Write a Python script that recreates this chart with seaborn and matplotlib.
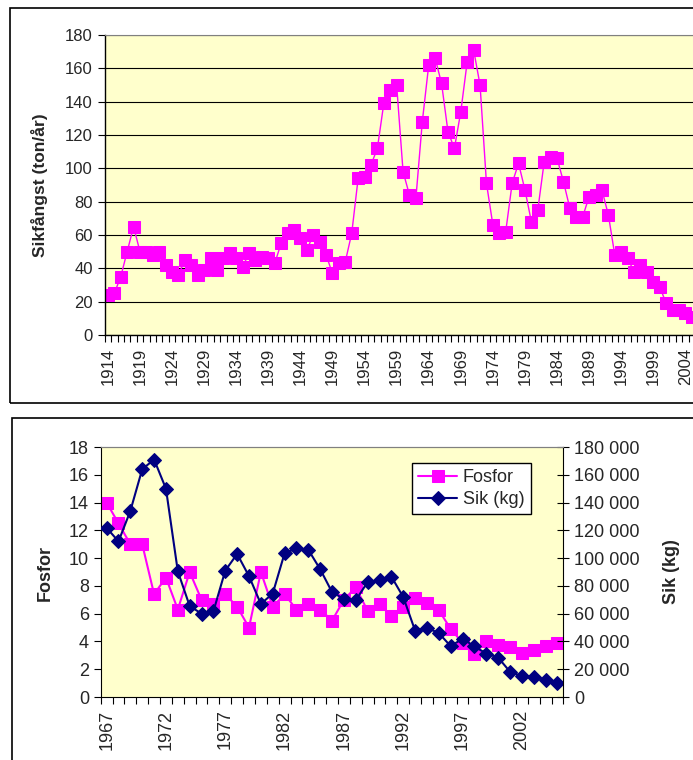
import numpy as np
import pandas as pd
import seaborn as sns
import matplotlib.pyplot as plt
from matplotlib.patches import Rectangle
from matplotlib.ticker import FuncFormatter

# --- data ---
catch_years = list(range(1914, 2006))
catch_tons = [24, 25, 35, 50, 65, 50, 50, 48, 50, 42,
              38, 36, 45, 42, 36, 39, 46, 39, 46, 49,
              46, 41, 49, 45, 47, 46, 43, 55, 61, 63,
              58, 51, 60, 56, 48, 37, 43, 44, 61, 94,
              95, 102, 112, 139, 147, 150, 98, 84, 82, 128,
              162, 166, 151, 122, 112, 134, 164, 171, 150, 91,
              66, 61, 62, 91, 103, 87, 68, 75, 104, 107,
              106, 92, 76, 71, 71, 83, 84, 87, 72, 48,
              50, 46, 38, 42, 38, 32, 29, 19, 15, 15,
              13, 11]

p_years = list(range(1967, 2006))
fosfor = [14.0, 12.5, 11.0, 11.0, 7.4, 8.6, 6.3, 9.0, 7.0, 6.7,
          7.4, 6.5, 5.0, 9.0, 6.5, 7.4, 6.3, 6.7, 6.3, 5.5,
          7.0, 7.9, 6.2, 6.7, 5.8, 6.5, 7.1, 6.75, 6.25, 4.9,
          3.9, 3.1, 4.0, 3.75, 3.6, 3.2, 3.4, 3.65, 3.9]
sik_kg = [121800, 112000, 134000, 164000, 171000, 150000, 90500, 65500, 60000, 61700,
          91000, 103000, 87000, 67000, 74500, 103500, 107000, 106000, 92000, 75500,
          70600, 69700, 82800, 84000, 86700, 72000, 47800, 49800, 46000, 36600,
          42000, 36400, 31300, 28400, 18200, 15000, 14600, 12600, 10400]

sns.set_style("ticks")
plt.rcParams['font.family'] = ['Liberation Sans', 'DejaVu Sans']

W, H = 693, 760
fig = plt.figure(figsize=(W / 100, H / 100), dpi=100)


def fx(px):
    return px / W


def fy(py):
    return 1 - py / H


def box(x0, y0, x1, y1):
    return [fx(x0), fy(y1), fx(x1) - fx(x0), fy(y0) - fy(y1)]


# outer frames of the two chart objects
for x0, y0, x1, y1 in [(10, 8, 720, 403), (12, 418, 720, 790)]:
    fig.patches.append(Rectangle((fx(x0), fy(y1)), fx(x1) - fx(x0), fy(y0) - fy(y1),
                                 transform=fig.transFigure, fill=False,
                                 ec='black', lw=1.2))

yellow = '#FFFFCC'
magenta = '#FF00FF'
navy = '#000080'


def category_xaxis(ax, years, step, size):
    n = len(years)
    ax.set_xlim(-0.5, n - 0.5)
    major = list(range(0, n, step))
    ax.set_xticks(major)
    ax.set_xticklabels([str(years[i]) for i in major], rotation=90, fontsize=size)
    ax.set_xticks(np.arange(-0.5, n, 1.0), minor=True)
    ax.tick_params(axis='x', which='major', length=0, pad=9)
    ax.tick_params(axis='x', which='minor', length=5, width=0.8, direction='out', color='black')
    ax.set_xlabel('')


# --- top chart: catch per year ---
ax1 = fig.add_axes(box(104.7, 35, 695, 335))
ax1.set_facecolor(yellow)
df1 = pd.DataFrame({'pos': np.arange(len(catch_years)), 'tons': catch_tons})
sns.lineplot(data=df1, x='pos', y='tons', ax=ax1, color=magenta, lw=1,
             marker='s', markersize=9, markeredgecolor=magenta, legend=False)
ax1.set_ylim(0, 180)
ax1.set_yticks(range(0, 181, 20))
ax1.set_axisbelow(True)
ax1.yaxis.grid(True, color='black', lw=0.8)
ax1.tick_params(axis='y', length=5, width=0.8, direction='out', labelsize=12, color='black')
category_xaxis(ax1, catch_years, 5, 12)
ax1.set_ylabel('')
for s in ['top', 'right']:
    ax1.spines[s].set_color('#808080')
for s in ['left', 'bottom']:
    ax1.spines[s].set_color('black')
    ax1.spines[s].set_linewidth(1)
fig.text(fx(40), fy(185), 'Sikfångst (ton/år)', rotation=90, ha='center', va='center',
         fontsize=12.5, fontweight='bold')

# --- bottom chart: phosphorus and whitefish ---
ax2 = fig.add_axes(box(100.7, 447, 563.4, 697))
ax2.set_facecolor(yellow)
pos = np.arange(len(p_years))
sns.lineplot(x=pos, y=fosfor, ax=ax2, color=magenta, lw=1.5, marker='s',
             markersize=8, markeredgecolor=magenta, legend=False)
ax2.set_ylim(0, 18)
ax2.set_yticks(range(0, 19, 2))
ax2.tick_params(axis='y', length=5, width=0.8, direction='out', labelsize=13, color='black')
category_xaxis(ax2, p_years, 5, 13)
ax2.set_ylabel('')

ax3 = ax2.twinx()
sns.lineplot(x=pos, y=sik_kg, ax=ax3, color=navy, lw=1.5, marker='D',
             markersize=7, markeredgecolor=navy, legend=False)
ax3.set_ylim(0, 180000)
ax3.set_yticks(range(0, 180001, 20000))
ax3.yaxis.set_major_formatter(FuncFormatter(lambda v, p: f"{int(v):,}".replace(',', ' ')))
ax3.tick_params(axis='y', length=8, width=0.8, direction='inout', labelsize=13, color='black')
ax3.set_ylabel('')

ax2.spines['top'].set_color('#808080')
ax3.spines['top'].set_color('#808080')
for s in ['left', 'bottom']:
    ax2.spines[s].set_color('black')
ax3.spines['right'].set_color('black')
ax2.spines['right'].set_visible(False)
ax3.spines['left'].set_visible(False)
ax3.spines['bottom'].set_visible(False)

fig.text(fx(45), fy(573), 'Fosfor', rotation=90, ha='center', va='center',
         fontsize=13, fontweight='bold')
fig.text(fx(672), fy(572), 'Sik (kg)', rotation=90, ha='center', va='center',
         fontsize=13, fontweight='bold')

leg = ax3.legend([ax2.lines[0], ax3.lines[0]], ['Fosfor', 'Sik (kg)'],
                 loc='upper left', bbox_to_anchor=(fx(412), fy(463)),
                 bbox_transform=fig.transFigure, borderaxespad=0, fontsize=13,
                 frameon=True, fancybox=False, framealpha=1, edgecolor='black',
                 handlelength=2.15, borderpad=0.35, labelspacing=0.25, handletextpad=0.3)
leg.get_frame().set_linewidth(1)

fig.savefig('out.png', dpi=100)
